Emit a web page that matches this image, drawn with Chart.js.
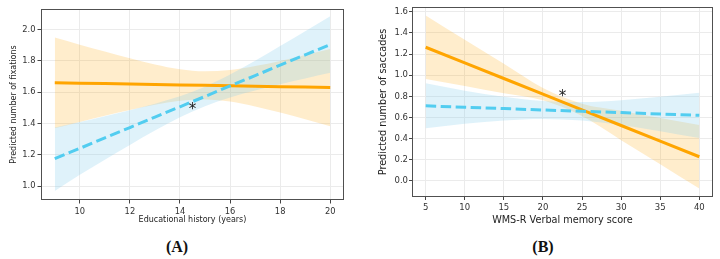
<!DOCTYPE html>
<html><head><meta charset="utf-8">
<script src="https://cdn.jsdelivr.net/npm/chart.js@4.4.0/dist/chart.umd.min.js"></script>
<style>
html,body{margin:0;padding:0;background:#fff;width:720px;height:259px;overflow:hidden;}
canvas{position:absolute;top:0;}
#ca{left:0;}
#cb{left:360px;}
.lab{position:absolute;top:238px;font:bold 16px "Liberation Serif","Times New Roman",serif;color:#111;transform:translateX(-50%);white-space:nowrap;}
</style></head><body>
<canvas id="ca" width="360" height="230" style="width:360px;height:230px"></canvas>
<canvas id="cb" width="360" height="230" style="width:360px;height:230px"></canvas>
<div class="lab" style="left:177px">(A)</div>
<div class="lab" style="left:543px">(B)</div>
<script>
// ---- Panel A data ----
const eduYears       = [9, 10, 11, 12, 13, 14, 15, 16, 17, 18, 19, 20];
const fixOrange      = [1.660, 1.657, 1.655, 1.652, 1.649, 1.646, 1.644, 1.641, 1.638, 1.635, 1.633, 1.630];
const fixOrangeUpper = [1.950, 1.904, 1.860, 1.817, 1.778, 1.747, 1.734, 1.742, 1.767, 1.800, 1.838, 1.877];
const fixOrangeLower = [1.370, 1.410, 1.450, 1.487, 1.520, 1.545, 1.554, 1.540, 1.509, 1.470, 1.428, 1.383];
const fixBlue        = [1.175, 1.241, 1.308, 1.374, 1.441, 1.507, 1.573, 1.640, 1.706, 1.773, 1.839, 1.905];
const fixBlueUpper   = [1.375, 1.410, 1.447, 1.485, 1.527, 1.574, 1.635, 1.713, 1.801, 1.895, 1.990, 2.086];
const fixBlueLower   = [0.968, 1.072, 1.169, 1.263, 1.355, 1.440, 1.511, 1.567, 1.611, 1.651, 1.688, 1.724];
const eduTicks = [10, 12, 14, 16, 18, 20];
const fixTicks = [1.0, 1.2, 1.4, 1.6, 1.8, 2.0];
const starA = [14.5, 1.51];

// ---- Panel B data ----
const wmsScore       = [5, 10, 15, 20, 25, 30, 35, 40];
const sacOrange      = [1.265, 1.117, 0.969, 0.821, 0.672, 0.524, 0.376, 0.228];
const sacOrangeUpper = [1.565, 1.335, 1.108, 0.880, 0.731, 0.663, 0.594, 0.528];
const sacOrangeLower = [0.965, 0.899, 0.830, 0.762, 0.613, 0.385, 0.158, -0.072];
const sacBlue        = [0.710, 0.697, 0.684, 0.671, 0.659, 0.646, 0.633, 0.620];
const sacBlueUpper   = [0.923, 0.854, 0.796, 0.756, 0.747, 0.764, 0.796, 0.835];
const sacBlueLower   = [0.497, 0.540, 0.572, 0.586, 0.571, 0.528, 0.470, 0.405];
const wmsTicks = [5, 10, 15, 20, 25, 30, 35, 40];
const sacTicks = [0.0, 0.2, 0.4, 0.6, 0.8, 1.0, 1.2, 1.4, 1.6];
const starB = [22.5, 0.83];

const ORANGE = '#FFA500';
const ORANGE_BAND = 'rgba(255,165,0,0.20)';
const BLUE = '#52CDF0';
const BLUE_BAND = 'rgba(135,206,235,0.27)';
const FAM = '"DejaVu Sans", sans-serif';

function pts(xs, ys) { return xs.map((x, i) => ({x: x, y: ys[i]})); }

const framePlugin = {
  id: 'frame',
  afterDraw(chart, args, opts) {
    const ctx = chart.ctx, a = chart.chartArea;
    ctx.save();
    ctx.strokeStyle = '#505050';
    ctx.lineWidth = 1;
    ctx.strokeRect(Math.round(a.left) + 0.5, Math.round(a.top) + 0.5,
                   Math.round(a.right - a.left) - 1, Math.round(a.bottom - a.top) - 1);
    const s = opts.star;
    if (s) {
      const x = chart.scales.x.getPixelForValue(s[0]);
      const y = chart.scales.y.getPixelForValue(s[1]);
      ctx.font = opts.starFont;
      ctx.fillStyle = '#222';
      ctx.textAlign = 'center';
      ctx.textBaseline = 'alphabetic';
      const m = ctx.measureText('*');
      const base = y + (m.actualBoundingBoxAscent - m.actualBoundingBoxDescent) / 2;
      ctx.fillText('*', x, base);
    }
    ctx.restore();
  }
};

function makePanel(id, c) {
  const band = (ys, color, fill) => ({
    data: pts(c.xs, ys), borderColor: 'rgba(0,0,0,0)', borderWidth: 1, pointRadius: 0,
    fill: fill ? '+1' : false, backgroundColor: color, cubicInterpolationMode: 'monotone', order: 3
  });
  const datasets = [
    Object.assign(band(c.oU, ORANGE_BAND, true), {order: 4}),
    Object.assign(band(c.oL, ORANGE_BAND, false), {order: 4}),
    band(c.bU, BLUE_BAND, true),
    band(c.bL, BLUE_BAND, false),
    {data: pts(c.xs, c.o), borderColor: ORANGE, borderWidth: 3, pointRadius: 0, fill: false, order: 1},
    {data: pts(c.xs, c.b), borderColor: BLUE, borderWidth: 3, borderDash: [10.5, 4.5], pointRadius: 0, fill: false, order: 0}
  ];
  const grid = {color: '#ebebeb', lineWidth: 1, tickColor: '#444', tickLength: c.tickLen, drawTicks: true};
  return new Chart(document.getElementById(id), {
    type: 'line',
    data: {datasets: datasets},
    plugins: [framePlugin],
    options: {
      responsive: false, animation: false,
      layout: {padding: c.pad},
      plugins: {legend: {display: false}, tooltip: {enabled: false}, frame: {star: c.star, starFont: c.starFont}},
      scales: {
        x: {
          type: 'linear', min: c.xMin, max: c.xMax,
          afterBuildTicks: s => { s.ticks = c.xTicks.map(v => ({value: v})); },
          afterFit: s => { s.height = c.xH; },
          grid: grid, border: {display: false},
          ticks: {font: {family: FAM, size: c.tickSize}, color: '#333', padding: c.xPad, maxRotation: 0, autoSkip: false,
                  callback: v => String(v)},
          title: {display: true, text: c.xTitle, font: {family: FAM, size: c.titleSize}, color: '#222', padding: {top: 4, bottom: 4}}
        },
        y: {
          type: 'linear', min: c.yMin, max: c.yMax,
          afterBuildTicks: s => { s.ticks = c.yTicks.map(v => ({value: v})); },
          afterFit: s => { s.width = c.yW; },
          grid: grid, border: {display: false},
          ticks: {font: {family: FAM, size: c.tickSize}, color: '#333', padding: c.yPad, autoSkip: false,
                  callback: v => Number(v).toFixed(1)},
          title: {display: true, text: c.yTitle, font: {family: FAM, size: c.titleSize}, color: '#222', padding: {top: 4, bottom: 4}}
        }
      }
    }
  });
}

makePanel('ca', {
  xs: eduYears, o: fixOrange, oU: fixOrangeUpper, oL: fixOrangeLower,
  b: fixBlue, bU: fixBlueUpper, bL: fixBlueLower,
  xTicks: eduTicks, yTicks: fixTicks, xMin: 8.45, xMax: 20.55, yMin: 0.911, yMax: 2.132,
  xTitle: 'Educational history (years)', yTitle: 'Predicted number of fixations',
  pad: {left: 5, top: 9, right: 16, bottom: 1}, xH: 29, yW: 36,
  tickSize: 8.3, titleSize: 8, tickLen: 3.5, xPad: 3, yPad: 2,
  star: starA, starFont: '15px "DejaVu Sans"'
});

makePanel('cb', {
  xs: wmsScore, o: sacOrange, oU: sacOrangeUpper, oL: sacOrangeLower,
  b: sacBlue, bU: sacBlueUpper, bL: sacBlueLower,
  xTicks: wmsTicks, yTicks: sacTicks, xMin: 3.25, xMax: 41.75, yMin: -0.153, yMax: 1.646,
  xTitle: 'WMS-R Verbal memory score', yTitle: 'Predicted number of saccades',
  pad: {left: 14, top: 7, right: 7, bottom: 0}, xH: 33, yW: 38,
  tickSize: 8.5, titleSize: 9.7, tickLen: 3, xPad: 3, yPad: 1,
  star: starB, starFont: '15px "DejaVu Sans"'
});
</script>
</body></html>
